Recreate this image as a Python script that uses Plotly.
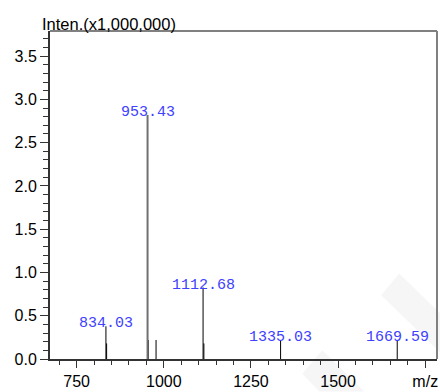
import plotly.graph_objects as go

# ---- data ----
peak_mz = [834.03, 836.0, 953.43, 955.4, 977.8, 1112.68, 1115.0, 1335.03, 1669.59]
peak_int = [0.378, 0.18, 2.82, 0.22, 0.22, 0.826, 0.18, 0.22, 0.22]   # x1,000,000
label_mz = [834.03, 953.43, 1112.68, 1335.03, 1669.59]
label_int = [0.378, 2.82, 0.826, 0.22, 0.22]
label_text = ["834.03", "953.43", "1112.68", "1335.03", "1669.59"]
base_peak = 953.43

x_tickvals = [750, 1000, 1250, 1500, 1750]
x_ticktext = ["750", "1000", "1250", "1500", "m/z"]
y_tickvals = [0.0, 0.5, 1.0, 1.5, 2.0, 2.5, 3.0, 3.5]
y_ticktext = ["0.0", "0.5", "1.0", "1.5", "2.0", "2.5", "3.0", "3.5"]

W, H = 440, 392
L, R, T, B = 50, 2, 31, 27

# stick traces
xs, ys, xb, yb = [], [], [], []
for m, v in zip(peak_mz, peak_int):
    if m == base_peak:
        xb += [m, m, None]
        yb += [0, v, None]
    else:
        xs += [m, m, None]
        ys += [0, v, None]

fig = go.Figure()
fig.add_trace(go.Scatter(x=xs, y=ys, mode="lines", line=dict(color="black", width=1),
                         hoverinfo="skip", showlegend=False))
fig.add_trace(go.Scatter(x=xb, y=yb, mode="lines", line=dict(color="#707070", width=2),
                         hoverinfo="skip", showlegend=False))

for m, v, t in zip(label_mz, label_int, label_text):
    fig.add_annotation(x=m, y=v, text=t, showarrow=False, xanchor="center", yanchor="bottom",
                       yshift=-8, font=dict(family="Liberation Mono", size=15, color="#4040FF"))

fig.add_annotation(xref="paper", yref="paper", x=-10 / 388, y=1.0, xanchor="left", yanchor="bottom",
                   yshift=-4, text="Inten.(x1,000,000)", showarrow=False,
                   font=dict(family="Liberation Sans", size=16.5, color="black"))

# faint watermark bands (paper coords from pixel positions)
def px(xp, yp):
    return ((xp - L) / (W - L - R), (H - B - yp) / (H - T - B))

def poly(pts):
    p = [px(a, b) for a, b in pts]
    return "M " + " L ".join(f"{a:.4f},{b:.4f}" for a, b in p) + " Z"

fig.add_shape(type="path", xref="paper", yref="paper", path=poly([(382, 300), (400, 278), (445, 322), (445, 362)]),
              fillcolor="#f6f6f6", line=dict(width=0), layer="below")
fig.add_shape(type="path", xref="paper", yref="paper", path=poly([(303, 380), (323, 356), (365, 398), (320, 398)]),
              fillcolor="#f6f6f6", line=dict(width=0), layer="below")

# top / right gray border
fig.add_shape(type="line", xref="paper", yref="paper", x0=0, x1=1, y0=1, y1=1,
              line=dict(color="#808080", width=2))
fig.add_shape(type="line", xref="paper", yref="paper", x0=1, x1=1, y0=0, y1=1,
              line=dict(color="#808080", width=2))

fig.update_xaxes(range=[673.6, 1783.7], tickvals=x_tickvals, ticktext=x_ticktext,
                 ticks="outside", ticklen=7, tickwidth=1, tickcolor="#333",
                 showline=True, linecolor="#333", linewidth=2, showgrid=False, zeroline=False,
                 tickfont=dict(family="Liberation Sans", size=16, color="black"),
                 minor=dict(dtick=50, tick0=0, ticks="outside", ticklen=4, tickcolor="#333", showgrid=False))
fig.update_yaxes(range=[0, 3.79], tickvals=y_tickvals, ticktext=y_ticktext,
                 ticks="outside", ticklen=8, tickwidth=1, tickcolor="#333",
                 showline=True, linecolor="#333", linewidth=2, showgrid=False, zeroline=False,
                 tickfont=dict(family="Liberation Sans", size=16, color="black"),
                 minor=dict(dtick=0.1, tick0=0, ticks="outside", ticklen=5, tickcolor="#333", showgrid=False))

fig.update_layout(width=W, height=H, margin=dict(l=L, r=R, t=T, b=B, pad=0),
                  paper_bgcolor="white", plot_bgcolor="rgba(0,0,0,0)", showlegend=False)

fig.write_html("out.html")
